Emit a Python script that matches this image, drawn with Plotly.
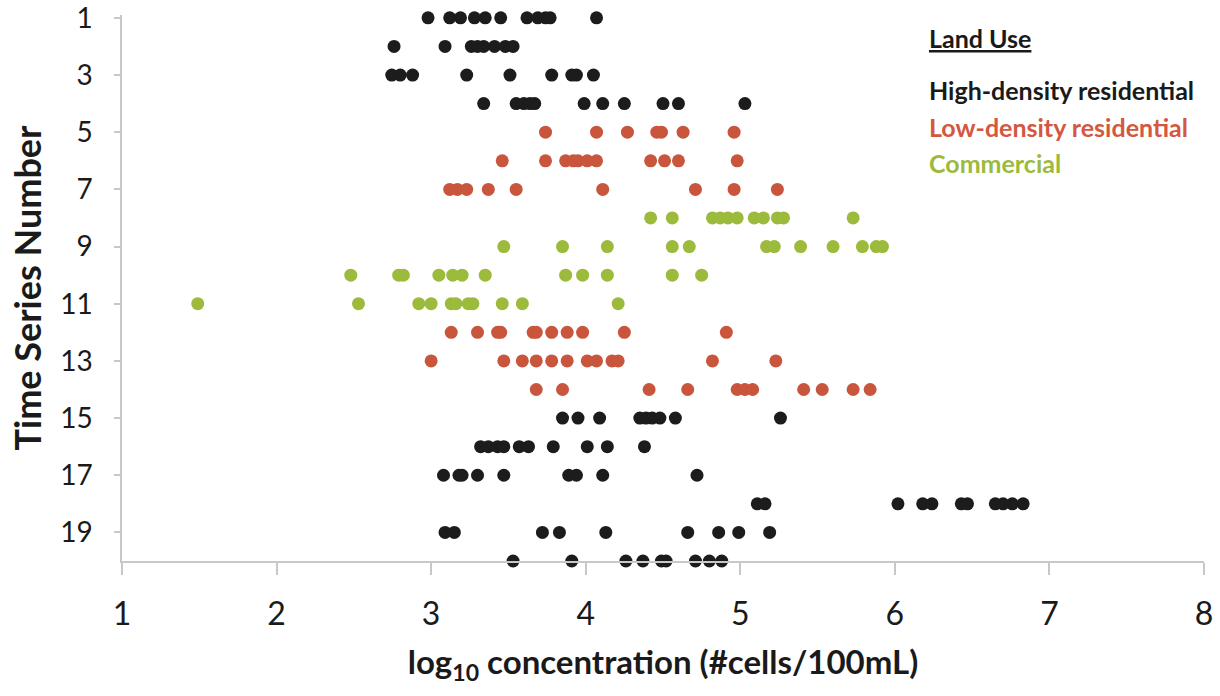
import plotly.graph_objects as go

# ---- data ----
high_density_rows = [1, 2, 3, 4, 15, 16, 17, 18, 19, 20]
high_density_conc = [
    [2.98, 3.12, 3.19, 3.28, 3.35, 3.45, 3.62, 3.69, 3.74, 3.77, 4.07],
    [2.76, 3.09, 3.26, 3.30, 3.34, 3.41, 3.48, 3.53],
    [2.745, 2.80, 2.88, 3.23, 3.51, 3.78, 3.91, 3.94, 4.05],
    [3.34, 3.55, 3.60, 3.64, 3.67, 3.99, 4.11, 4.25, 4.50, 4.60, 5.03],
    [3.85, 3.95, 4.09, 4.35, 4.39, 4.43, 4.48, 4.58, 5.26],
    [3.32, 3.37, 3.43, 3.47, 3.57, 3.63, 3.79, 4.01, 4.14, 4.38],
    [3.08, 3.18, 3.20, 3.30, 3.47, 3.89, 3.94, 4.11, 4.72],
    [5.11, 5.16, 6.02, 6.18, 6.24, 6.43, 6.47, 6.65, 6.70, 6.76, 6.83],
    [3.09, 3.15, 3.72, 3.83, 4.13, 4.66, 4.86, 4.99, 5.19],
    [3.53, 3.91, 4.26, 4.37, 4.49, 4.52, 4.71, 4.80, 4.88],
]

low_density_rows = [5, 6, 7, 12, 13, 14]
low_density_conc = [
    [3.74, 4.07, 4.27, 4.46, 4.49, 4.63, 4.96],
    [3.46, 3.74, 3.87, 3.92, 3.95, 4.01, 4.07, 4.42, 4.51, 4.60, 4.98],
    [3.12, 3.17, 3.23, 3.37, 3.55, 4.11, 4.71, 4.96, 5.24],
    [3.13, 3.30, 3.43, 3.45, 3.66, 3.68, 3.78, 3.88, 3.98, 4.25, 4.91],
    [3.00, 3.47, 3.59, 3.68, 3.78, 3.88, 4.01, 4.07, 4.17, 4.21, 4.82, 5.23],
    [3.68, 3.85, 4.41, 4.66, 4.98, 5.03, 5.08, 5.41, 5.53, 5.73, 5.84],
]

commercial_rows = [8, 9, 10, 11]
commercial_conc = [
    [4.42, 4.56, 4.82, 4.87, 4.92, 4.98, 5.09, 5.15, 5.24, 5.28, 5.73],
    [3.47, 3.85, 4.14, 4.56, 4.67, 5.17, 5.22, 5.39, 5.60, 5.79, 5.88, 5.92],
    [2.48, 2.79, 2.82, 3.05, 3.14, 3.20, 3.35, 3.87, 3.98, 4.14, 4.56, 4.75],
    [1.49, 2.53, 2.92, 3.00, 3.13, 3.16, 3.24, 3.27, 3.46, 3.59, 4.21],
]

y_ticks = [1, 3, 5, 7, 9, 11, 13, 15, 17, 19]
x_ticks = [1, 2, 3, 4, 5, 6, 7, 8]

legend_title = "Land Use"
series_names = ["High-density residential", "Low-density residential", "Commercial"]
series_colors = ["#1c1c1c", "#c8553c", "#9cba3c"]
label_colors = ["#1a1a1a", "#d4573f", "#9cba3c"]

FONT = "Lato"
TXT = "#1a1a1a"

fig = go.Figure()

groups = [
    (high_density_rows, high_density_conc),
    (low_density_rows, low_density_conc),
    (commercial_rows, commercial_conc),
]
for (rows, concs), name, color in zip(groups, series_names, series_colors):
    xs, ys = [], []
    for r, vals in zip(rows, concs):
        xs.extend(vals)
        ys.extend([r] * len(vals))
    fig.add_trace(go.Scatter(
        x=xs, y=ys, mode="markers", name=name,
        marker=dict(size=13, color=color, line=dict(width=0)),
        cliponaxis=False, showlegend=False,
    ))

# legend drawn as a text block (paper coordinates)
leg_x = (927 - 122) / 1082.0
def py(pix):
    return (561 - pix) / 546.0

fig.add_annotation(x=leg_x, y=py(38), xref="paper", yref="paper",
                   text="<b><u>" + legend_title + "</u></b>", showarrow=False,
                   xanchor="left", yanchor="middle",
                   font=dict(family=FONT, size=25, color=TXT))
for i, (name, color) in enumerate(zip(series_names, label_colors)):
    fig.add_annotation(x=leg_x, y=py(90 + i * 36.5), xref="paper", yref="paper",
                       text="<b>" + name + "</b>", showarrow=False,
                       xanchor="left", yanchor="middle",
                       font=dict(family=FONT, size=25, color=color))

fig.update_layout(
    width=1220, height=696,
    margin=dict(l=122, r=16, t=15, b=135, autoexpand=False),
    paper_bgcolor="white", plot_bgcolor="white",
    font=dict(family=FONT, color=TXT),
    xaxis=dict(
        range=[1, 8], tickvals=x_ticks, showgrid=False, zeroline=False,
        showline=True, linecolor="#c8c8c8", linewidth=1.5,
        ticks="outside", ticklen=12, tickcolor="#c8c8c8", tickwidth=1.5,
        ticklabelstandoff=12, automargin=False,
        tickfont=dict(family=FONT, size=32, color=TXT),
        title=dict(text="<b>log<sub>10</sub> concentration (#cells/100mL)</b>",
                   font=dict(family=FONT, size=33, color=TXT), standoff=20),
    ),
    yaxis=dict(
        range=[20, 0.9], tickvals=y_ticks, showgrid=False, zeroline=False,
        showline=True, linecolor="#c8c8c8", linewidth=1.5,
        ticks="outside", ticklen=6, tickcolor="#c8c8c8", tickwidth=1.5,
        ticklabelstandoff=16, ticklabeloverflow="allow", automargin=False,
        tickfont=dict(family=FONT, size=28, color=TXT),
        title=dict(text="<b>Time Series Number</b>",
                   font=dict(family=FONT, size=36, color=TXT), standoff=8),
    ),
)

fig.write_html("out.html")
